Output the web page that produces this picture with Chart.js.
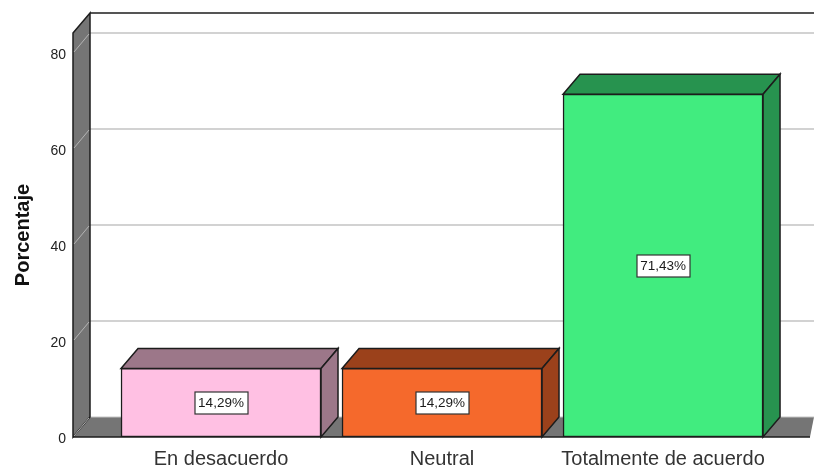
<!DOCTYPE html>
<html><head><meta charset="utf-8">
<style>html,body{margin:0;padding:0;background:#fff}#w{width:814px;height:468px}</style>
<script src="https://cdn.jsdelivr.net/npm/chart.js@4"></script></head>
<body><div id="w"><canvas id="c" width="814" height="468"></canvas></div>
<script>
const categories = ["En desacuerdo", "Neutral", "Totalmente de acuerdo"];
const percentages = [14.29, 14.29, 71.43];
const valueLabels = ["14,29%", "14,29%", "71,43%"];
const frontColors = ["#FFC0E3", "#F5692C", "#41EC7F"];
const sideColors = ["#9C7789", "#9B411B", "#27934F"];
const yTicks = [0, 20, 40, 60, 80];
const DX = 17, DY = 20, EDGE = "#1c1c1c";

function poly(ctx, pts, fill, stroke, lw) {
  ctx.beginPath();
  pts.forEach((p, i) => i ? ctx.lineTo(p[0], p[1]) : ctx.moveTo(p[0], p[1]));
  ctx.closePath();
  if (fill) { ctx.fillStyle = fill; ctx.fill(); }
  if (stroke) { ctx.strokeStyle = stroke; ctx.lineWidth = lw; ctx.stroke(); }
}
const scene = {
  id: "scene",
  beforeDatasetsDraw(chart) {
    const { ctx, chartArea: a, scales: { y } } = chart;
    const L = a.left, R = a.right, T = a.top, B = a.bottom;
    ctx.save();
    ctx.lineWidth = 2; ctx.strokeStyle = "#d2d2d2";
    yTicks.slice(1).forEach(v => {
      const p = Math.round(y.getPixelForValue(v));
      ctx.beginPath(); ctx.moveTo(L + DX, p - DY); ctx.lineTo(814, p - DY); ctx.stroke();
    });
    ctx.lineWidth = 1.5; ctx.strokeStyle = EDGE;
    ctx.beginPath(); ctx.moveTo(L + DX, T - DY); ctx.lineTo(814, T - DY); ctx.stroke();
    poly(ctx, [[L, B], [L + DX, B - DY], [814, B - DY], [R, B]], "#757575");
    ctx.strokeStyle = "#c4c4c4"; ctx.lineWidth = 1;
    ctx.beginPath(); ctx.moveTo(L + DX, B - DY); ctx.lineTo(814, B - DY); ctx.stroke();
    ctx.strokeStyle = EDGE; ctx.lineWidth = 1.5;
    ctx.beginPath(); ctx.moveTo(L, B); ctx.lineTo(R, B); ctx.stroke();
    poly(ctx, [[L, T], [L + DX, T - DY], [L + DX, B - DY], [L, B]], "#757575", EDGE, 1.5);
    ctx.strokeStyle = "#b4b4b4"; ctx.lineWidth = 1;
    yTicks.slice(1).forEach(v => {
      const p = Math.round(y.getPixelForValue(v));
      ctx.beginPath(); ctx.moveTo(L + 1, p - 1); ctx.lineTo(L + DX - 1, p - DY + 1); ctx.stroke();
    });
    ctx.beginPath(); ctx.moveTo(L + 1, B - 1); ctx.lineTo(L + DX - 1, B - DY + 1); ctx.stroke();
    chart.getDatasetMeta(0).data.forEach((bar, i) => {
      const x0 = bar.x - bar.width / 2, x1 = bar.x + bar.width / 2;
      const t = bar.y, b = bar.base;
      poly(ctx, [[x0, t], [x0 + DX, t - DY], [x1 + DX, t - DY], [x1, t]], sideColors[i], EDGE, 1.5);
      poly(ctx, [[x1, t], [x1 + DX, t - DY], [x1 + DX, b - DY], [x1, b]], sideColors[i], EDGE, 1.5);
    });
    ctx.restore();
  },
  afterDatasetsDraw(chart) {
    const { ctx } = chart;
    ctx.save();
    ctx.font = "13.5px 'Liberation Sans', Arial, sans-serif";
    ctx.textAlign = "center"; ctx.textBaseline = "middle";
    chart.getDatasetMeta(0).data.forEach((bar, i) => {
      const cy = Math.round((bar.y + bar.base) / 2), w = 53, h = 22;
      const left = Math.round(bar.x - w / 2);
      ctx.fillStyle = "#fff"; ctx.fillRect(left, cy - h / 2, w, h);
      ctx.strokeStyle = "#333"; ctx.lineWidth = 1.2; ctx.strokeRect(left, cy - h / 2, w, h);
      ctx.fillStyle = "#1a1a1a"; ctx.fillText(valueLabels[i], bar.x, cy + 0.5);
    });
    ctx.restore();
  }
};
new Chart(document.getElementById("c"), {
  type: "bar",
  data: {
    datasets: [{
      data: percentages.map((v, i) => ({ x: i, y: v })),
      backgroundColor: frontColors,
      borderColor: EDGE,
      borderWidth: 1.5,
      barThickness: 200,
      borderSkipped: false
    }]
  },
  options: {
    responsive: false,
    animation: false,
    layout: { padding: { top: 33, right: 4, left: 0, bottom: 0 } },
    plugins: { legend: { display: false }, tooltip: { enabled: false } },
    scales: {
      x: {
        type: "linear",
        offset: false,
        min: -0.6697, max: 2.665,
        grid: { display: false, offset: false },
        border: { display: false },
        afterBuildTicks: s => { s.ticks = categories.map((c, i) => ({ value: i })); },
        afterFit: s => { s.height = 31; },
        ticks: {
          autoSkip: false, maxRotation: 0, padding: 2,
          color: "#333", font: { family: "'Liberation Sans', Arial, sans-serif", size: 20 },
          callback: v => categories[v]
        }
      },
      y: {
        min: 0, max: 84.17,
        grid: { display: false, drawTicks: false },
        border: { display: false },
        afterFit: s => { s.width = 73; },
        afterBuildTicks: s => { s.ticks = yTicks.map(v => ({ value: v })); },
        title: {
          display: true, text: "Porcentaje", color: "#111", padding: { top: 11, bottom: 0 },
          font: { family: "'Liberation Sans', Arial, sans-serif", size: 20, weight: "bold" }
        },
        ticks: {
          padding: 7, color: "#222", includeBounds: false, labelOffset: 2,
          font: { family: "'Liberation Sans', Arial, sans-serif", size: 14 }
        }
      }
    }
  },
  plugins: [scene]
});
</script></body></html>
